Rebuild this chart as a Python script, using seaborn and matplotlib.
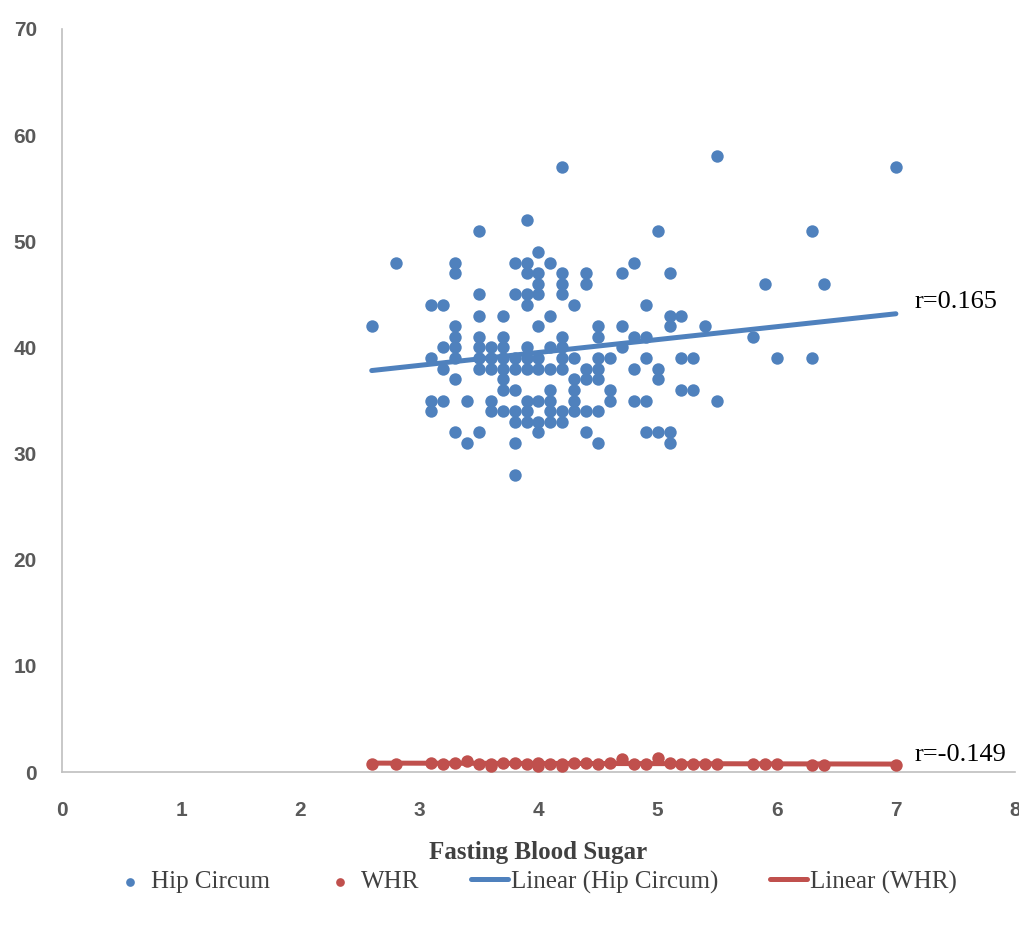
import numpy as np
import pandas as pd
import matplotlib
matplotlib.use("Agg")
import matplotlib.pyplot as plt
import seaborn as sns

# Hip circumference vs fasting blood sugar (grouped by FBS)
hip_fbs = (
    [2.6, 2.8]
    + [3.1] * 4 + [3.2] * 4 + [3.3] * 8 + [3.4] * 2 + [3.5] * 8
    + [3.6] * 5 + [3.7] * 8 + [3.8] * 9 + [3.9] * 11 + [4.0] * 10
    + [4.1] * 8 + [4.2] * 10 + [4.3] * 6 + [4.4] * 6 + [4.5] * 7
    + [4.6] * 3 + [4.7] * 3 + [4.8] * 4 + [4.9] * 5 + [5.0] * 4
    + [5.1] * 5 + [5.2] * 3 + [5.3] * 2 + [5.4] + [5.5] * 2
    + [5.8, 5.9, 6.0, 6.3, 6.3, 6.4, 7.0]
)
hip_circum = (
    [42, 48]
    + [44, 39, 35, 34]
    + [44, 40, 38, 35]
    + [48, 47, 42, 41, 40, 39, 37, 32]
    + [35, 31]
    + [51, 45, 43, 41, 40, 39, 38, 32]
    + [40, 39, 38, 35, 34]
    + [43, 41, 40, 39, 38, 37, 36, 34]
    + [48, 45, 39, 38, 36, 34, 33, 31, 28]
    + [52, 48, 47, 45, 44, 40, 39, 38, 35, 34, 33]
    + [49, 47, 46, 45, 42, 39, 38, 35, 33, 32]
    + [48, 43, 40, 38, 36, 35, 34, 33]
    + [57, 47, 46, 45, 41, 40, 39, 38, 34, 33]
    + [44, 39, 37, 36, 35, 34]
    + [47, 46, 38, 37, 34, 32]
    + [42, 41, 39, 38, 37, 34, 31]
    + [39, 36, 35]
    + [47, 42, 40]
    + [48, 41, 38, 35]
    + [44, 41, 39, 35, 32]
    + [51, 38, 37, 32]
    + [47, 43, 42, 32, 31]
    + [43, 39, 36]
    + [39, 36]
    + [42]
    + [58, 35]
    + [41, 46, 39, 51, 39, 46, 57]
)

# Waist-hip ratio vs fasting blood sugar
whr_fbs = [2.6, 2.8, 3.1, 3.2, 3.3, 3.4, 3.5, 3.6, 3.6, 3.7, 3.8, 3.9, 4.0, 4.0,
           4.1, 4.2, 4.2, 4.3, 4.4, 4.5, 4.6, 4.7, 4.8, 4.9, 5.0, 5.1, 5.2,
           5.3, 5.4, 5.5, 5.8, 5.9, 6.0, 6.3, 6.4, 7.0]
whr = [0.80, 0.78, 0.82, 0.80, 0.85, 1.05, 0.80, 0.78, 0.60, 0.82, 0.85, 0.80,
       0.83, 0.58, 0.79, 0.75, 0.55, 0.86, 0.82, 0.80, 0.84, 1.20, 0.72, 0.80,
       1.30, 0.82, 0.76, 0.79, 0.74, 0.78, 0.75, 0.72, 0.80, 0.70, 0.68, 0.62]

hip_r = "r=0.165"
whr_r = "r=-0.149"

BLUE = "#4F81BD"
RED = "#C0504D"

hip_df = pd.DataFrame({"Fasting Blood Sugar": hip_fbs, "value": hip_circum})
whr_df = pd.DataFrame({"Fasting Blood Sugar": whr_fbs, "value": whr})

sns.set_style("white")
plt.rcParams["font.family"] = ["Liberation Serif", "DejaVu Serif"]

fig = plt.figure(figsize=(10.2, 9.32), dpi=100)
ax = fig.add_axes([62 / 1020, 1 - 772 / 932, 953 / 1020, 743 / 932])

sns.scatterplot(data=hip_df, x="Fasting Blood Sugar", y="value", color=BLUE,
                s=80, linewidth=0, label="Hip Circum", ax=ax, zorder=3)
sns.scatterplot(data=whr_df, x="Fasting Blood Sugar", y="value", color=RED,
                s=80, linewidth=0, label="WHR", ax=ax, zorder=3)
sns.regplot(data=hip_df, x="Fasting Blood Sugar", y="value", scatter=False, ci=None,
            truncate=True, color=BLUE, label="Linear (Hip Circum)",
            line_kws={"lw": 3.6, "solid_capstyle": "round", "zorder": 4}, ax=ax)
sns.regplot(data=whr_df, x="Fasting Blood Sugar", y="value", scatter=False, ci=None,
            truncate=True, color=RED, label="Linear (WHR)",
            line_kws={"lw": 3.6, "solid_capstyle": "round", "zorder": 4}, ax=ax)

ax.set_xlim(0, 8)
ax.set_ylim(0, 70)
ax.set_xticks(range(0, 9))
ax.set_yticks(range(0, 71, 10))
ax.set_ylabel("")
ax.set_xlabel("Fasting Blood Sugar", fontsize=18, fontweight="bold", color="#404040")
ax.xaxis.set_label_coords(0.5, -(853 - 772) / 743)
ax.xaxis.label.set_va("center")

for lab in ax.get_xticklabels() + ax.get_yticklabels():
    lab.set_fontfamily(["Liberation Sans Narrow", "Liberation Sans"])
    lab.set_fontweight("bold")
    lab.set_fontsize(15)
    lab.set_color("#595959")
ax.tick_params(axis="x", length=0, pad=21)
ax.tick_params(axis="y", length=0, pad=18)

for side in ["top", "right"]:
    ax.spines[side].set_visible(False)
for side in ["left", "bottom"]:
    ax.spines[side].set_color("#BFBFBF")
    ax.spines[side].set_linewidth(1.2)

ax.text(7.16, 44.3, hip_r, fontsize=19, ha="left", va="center", color="black", clip_on=False)
ax.text(7.16, 1.6, whr_r, fontsize=19, ha="left", va="center", color="black", clip_on=False)

handles, labels = ax.get_legend_handles_labels()
leg = ax.legend(handles, labels, loc="center", bbox_to_anchor=(0.495, -(882 - 772) / 743),
                ncol=4, frameon=False, fontsize=18, handlelength=1.5, handletextpad=0.1,
                columnspacing=2.05, markerscale=0.7)
for t in leg.get_texts():
    t.set_color("#404040")

fig.savefig("out.png", dpi=100)
plt.close(fig)
